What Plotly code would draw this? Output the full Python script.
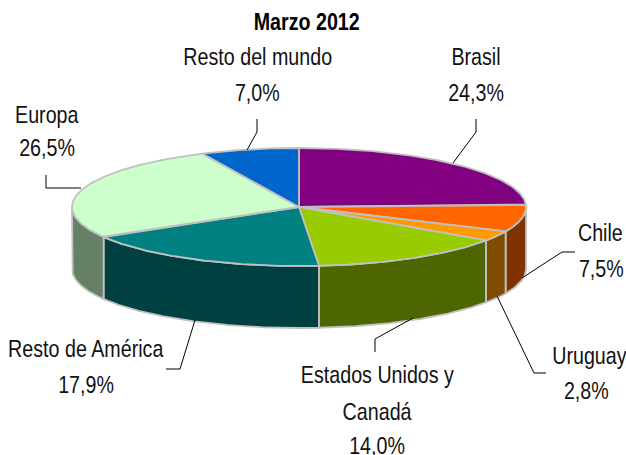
import numpy as np
import plotly.graph_objects as go

categories = ["Brasil", "Chile", "Uruguay", "Estados Unidos y Canadá",
              "Resto de América", "Europa", "Resto del mundo"]
shares = [24.3, 7.5, 2.8, 14.0, 17.9, 26.5, 7.0]
share_labels = ["24,3%", "7,5%", "2,8%", "14,0%", "17,9%", "26,5%", "7,0%"]
top_colors = ["#800080", "#FF6600", "#FF9900", "#99CC00", "#008080", "#CCFFCC", "#0066CC"]
side_colors = ["#400040", "#803300", "#804D00", "#4D6600", "#004040", "#668066", "#003366"]
title_text = "Marzo 2012"

W, H = 626, 455
CX, CY, RX, RY, DEPTH = 299, 207, 227, 59, 62
EDGE = "#C0C0C0"
FONT = "Liberation Sans, Arial, sans-serif"


def rim(start, end, drop=0.0):
    n = max(2, int(abs(end - start)) * 2 + 2)
    t = np.radians(np.linspace(start, end, n))
    return CX + RX * np.sin(t), CY - RY * np.cos(t) + drop


fig = go.Figure()
total = sum(shares)
edges = np.concatenate([[0], np.cumsum(shares)]) / total * 360

# front wall
for name, a, b, col in zip(categories, edges[:-1], edges[1:], side_colors):
    lo, hi = max(a, 90), min(b, 270)
    if hi <= lo:
        continue
    x1, y1 = rim(lo, hi)
    x2, y2 = rim(hi, lo, DEPTH)
    fig.add_trace(go.Scatter(
        x=np.r_[x1, x2, x1[0]], y=np.r_[y1, y2, y1[0]],
        mode="lines", fill="toself", fillcolor=col,
        line=dict(color=EDGE, width=1.8), name=name, hoverinfo="name",
        showlegend=False))

# top face
for name, a, b, col in zip(categories, edges[:-1], edges[1:], top_colors):
    x, y = rim(a, b)
    fig.add_trace(go.Scatter(
        x=np.r_[CX, x, CX], y=np.r_[CY, y, CY],
        mode="lines", fill="toself", fillcolor=col,
        line=dict(color=EDGE, width=1.8), name=name, hoverinfo="name",
        showlegend=False))

leaders = [
    [(257, 119), (257, 132), (247, 150)],
    [(476, 119), (476, 132), (453, 163)],
    [(575, 252), (562, 252), (522, 278)],
    [(497, 296), (534, 373), (546, 373)],
    [(413, 318), (375, 339), (375, 352)],
    [(195, 320), (180, 369), (166, 369)],
    [(81, 188), (46, 188), (46, 175)],
]
shapes = []
for pts in leaders:
    path = "M" + " L".join(f"{x},{y}" for x, y in pts)
    shapes.append(dict(type="path", path=path, xref="x", yref="y",
                       line=dict(color="#000000", width=1)))

label_spots = [
    ("Resto del mundo", 257, 56), (share_labels[6], 257, 92),
    ("Brasil", 476, 56), (share_labels[0], 476, 92),
    ("Europa", 47, 114), (share_labels[5], 47, 147),
    ("Chile", 600, 232), (share_labels[1], 601, 268),
    ("Uruguay", 589, 355), (share_labels[2], 586, 390),
    ("Estados Unidos y", 377, 374), ("Canadá", 377, 411), (share_labels[3], 377, 445),
    ("Resto de América", 86, 348), (share_labels[4], 86, 384),
]
annotations = [dict(x=x, y=y, xref="x", yref="y", text=t, showarrow=False,
                    xanchor="center", yanchor="middle",
                    font=dict(family=FONT, size=24, color="#111111"))
               for t, x, y in label_spots]
annotations.append(dict(x=306, y=21, xref="x", yref="y", text=f"<b>{title_text}</b>",
                        showarrow=False, xanchor="center", yanchor="middle",
                        font=dict(family=FONT, size=24, color="#000000")))

fig.update_layout(
    width=W, height=H, margin=dict(l=0, r=0, t=0, b=0, pad=0),
    autosize=False,
    paper_bgcolor="white", plot_bgcolor="white",
    xaxis=dict(range=[0, W], visible=False, fixedrange=True),
    yaxis=dict(range=[H, 0], visible=False, fixedrange=True),
    shapes=shapes, annotations=annotations, showlegend=False,
)

# No narrow font is installed: condense the real text horizontally, and drop the page margin.
post = """
document.body.style.margin = '0';
document.querySelectorAll('text.annotation-text').forEach(function (t) {
  var b = t.getBBox(), c = b.x + b.width / 2;
  var old = t.getAttribute('transform') || '';
  t.setAttribute('transform', old + ' translate(' + c + ',0) scale(0.82,1) translate(' + (-c) + ',0)');
});
"""
fig.write_html("out.html", config=dict(displayModeBar=False), post_script=post)
